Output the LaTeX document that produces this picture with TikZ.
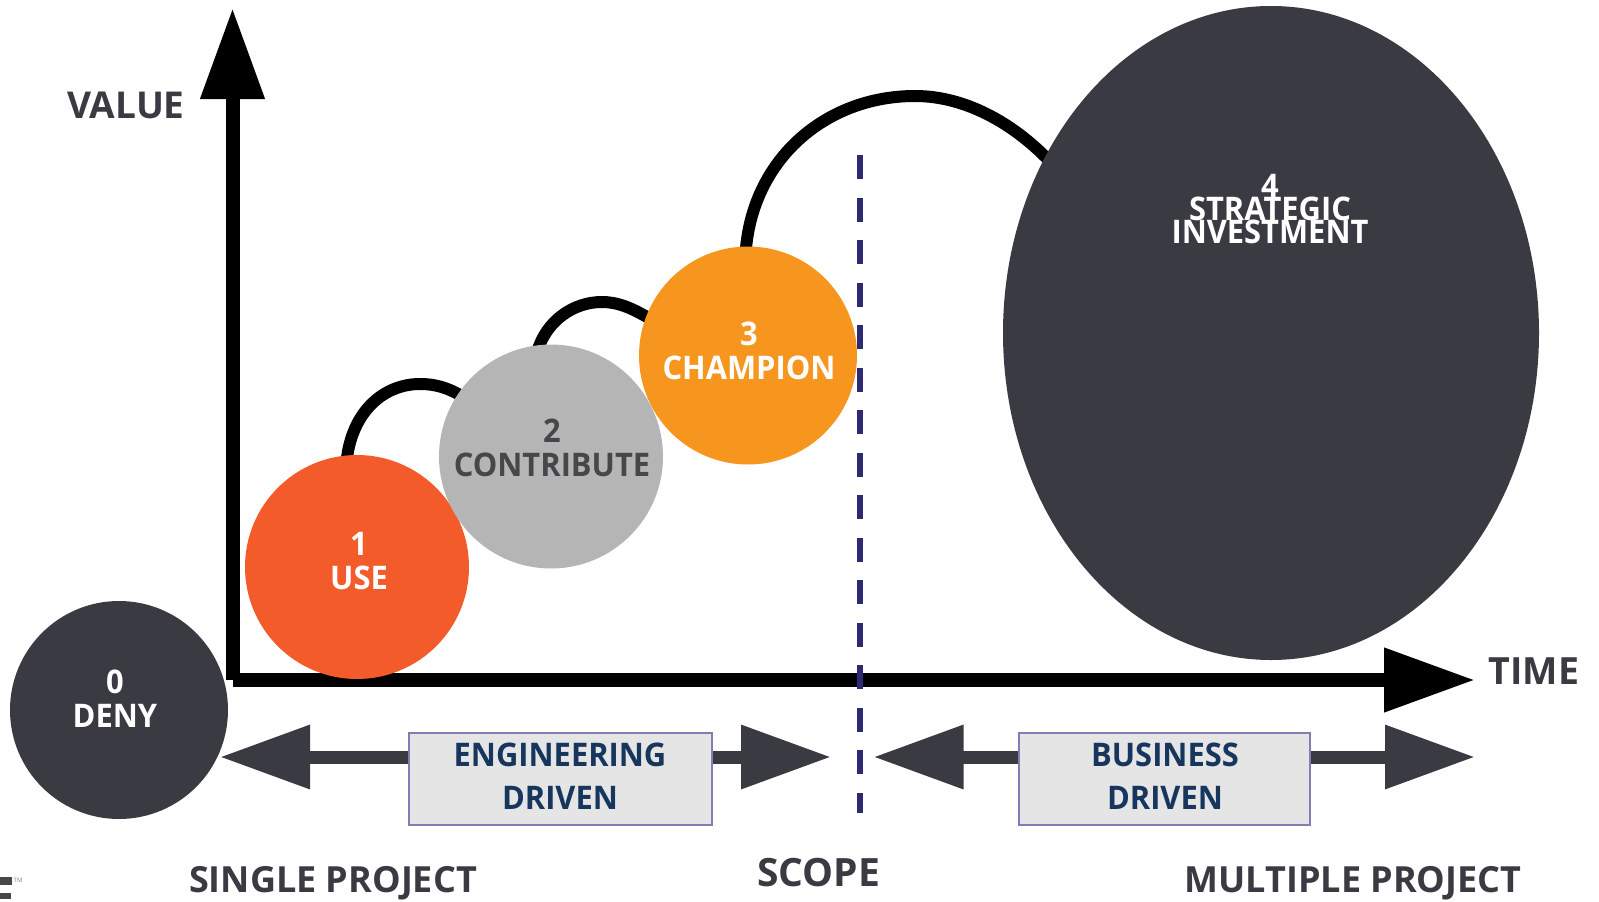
\documentclass[tikz,border=0pt]{standalone}
\usepackage{fontspec}
\setmainfont{Open Sans}
\newfontfamily\semi{Open Sans}[FakeStretch=0.95]
\newcommand\tightlines{\lineskiplimit=-20pt\relax}
\usetikzlibrary{arrows.meta,backgrounds,shapes.geometric}
\definecolor{dark}{HTML}{3A3A42}
\definecolor{redor}{HTML}{F35B2A}
\definecolor{midgray}{HTML}{B5B5B5}
\definecolor{amber}{HTML}{F7961F}
\definecolor{navy}{HTML}{17365D}
\definecolor{dashblue}{HTML}{2E2A72}
\definecolor{boxedge}{HTML}{7F7FB2}
\definecolor{boxfill}{HTML}{E5E5E5}
\definecolor{graytext}{HTML}{47474A}
\tikzset{
  disc/.style={circle,inner sep=0pt,draw=none},
  big/.style={ellipse,inner sep=0pt,draw=none,fill=dark,minimum width=536pt,minimum height=654pt},
  lab/.style={anchor=base,inner sep=0pt,align=center,font=\fontsize{32.5}{34}\selectfont\semi\bfseries},
  side/.style={anchor=base,inner sep=0pt,text=dark,font=\fontsize{36}{36}\selectfont\bfseries},
  drivebox/.style={rectangle,draw=boxedge,fill=boxfill,line width=2pt,inner sep=0pt},
  drivetext/.style={anchor=base,inner sep=0pt,align=center,text=navy,font=\fontsize{32.5}{43}\selectfont\semi\bfseries},
  axisline/.style={line width=14pt,black,-{Triangle[length=91pt,width=61pt]}},
  spanarrow/.style={line width=13pt,dark,-{Triangle[length=90pt,width=61pt]}},
  hop/.style={line width=12pt,black,shorten <=-6pt,shorten >=-6pt},
  scopeline/.style={line width=6pt,dashblue,dash pattern=on 24pt off 18.5pt},
  logobar/.style={draw=none,fill=graytext,inner sep=0pt}
}
\begin{document}
\begin{tikzpicture}[x=1pt,y=-1pt]
\useasboundingbox (0,0) rectangle (1599,902);
% stage discs
\node[disc,fill=dark,minimum size=218pt] (deny) at (119,710) {};
\node[disc,fill=redor,minimum size=224pt] (use) at (357,567) {};
\node[disc,fill=midgray,minimum size=224pt] (contrib) at (551,456.5) {};
\node[disc,fill=amber,minimum size=218pt] (champ) at (748,355.5) {};
\node[big] (strat) at (1271,333) {};
% stage labels
\node[lab,text=white] (denyl) at (115,727) {0\\DENY};
\node[lab,text=white] (usel) at (359,589) {1\\USE};
\node[lab,text=graytext] (contribl) at (552,476) {2\\CONTRIBUTE};
\node[lab,text=white] (champl) at (749,379) {3\\CHAMPION};
\node[lab,text=white,font=\fontsize{32.5}{23}\selectfont\semi\bfseries\tightlines] (stratl) at (1270,243) {4\\STRATEGIC\\INVESTMENT};
% driver boxes
\node[drivebox,minimum width=303pt,minimum height=92pt] (eng) at (560,779) {};
\node[drivebox,minimum width=291pt,minimum height=92pt] (biz) at (1164.5,779) {};
\node[drivetext] (engl) at (560,809) {ENGINEERING\\DRIVEN};
\node[drivetext] (bizl) at (1165,809) {BUSINESS\\DRIVEN};
% axis ends
\coordinate (origin) at (232.5,680);
\coordinate (ytip) at (232.5,8);
\coordinate (xtip) at (1475,680);
\coordinate (engL) at (220,757);
\coordinate (engR) at (831,757);
\coordinate (bizL) at (873.5,757);
\coordinate (bizR) at (1475,757);
\coordinate (scopetop) at (859.5,155);
\coordinate (scopebot) at (859.5,813);
\coordinate (engw) at (eng.west |- engL);
\coordinate (enge) at (eng.east |- engL);
\coordinate (bizw) at (biz.west |- bizL);
\coordinate (bize) at (biz.east |- bizR);
\begin{scope}[on background layer]
  \draw[axisline] (origin) -- (ytip);
  \draw[axisline] (origin) -- (xtip);
  \draw[spanarrow] (engw) -- (engL);
  \draw[spanarrow] (enge) -- (engR);
  \draw[spanarrow] (bizw) -- (bizL);
  \draw[spanarrow] (bize) -- (bizR);
  \draw[scopeline] (scopetop) -- (scopebot);
  \draw[hop] (use.95) .. controls (352,410) and (385,384) .. (420,384)
     .. controls (434,384) and (447,387) .. (contrib.146);
  \draw[hop] (contrib.96) .. controls (547,320) and (574,302) .. (602,302)
     .. controls (618,302) and (632,308) .. (champ.159);
  \draw[hop] (champ.91) .. controls (752,160) and (825,96) .. (915,96)
     .. controls (964,96) and (1012,122) .. (strat.142.5);
\end{scope}
% axis and scope captions
\node[side,font=\fontsize{37}{36}\selectfont\bfseries] (value) at (126,118) {VALUE};
\node[side,font=\fontsize{37.5}{36}\selectfont\bfseries] (time) at (1534,684) {TIME};
\node[side] (single) at (333,892) {SINGLE PROJECT};
\node[side,font=\fontsize{39}{36}\selectfont\bfseries] (scopel) at (818.5,886.5) {SCOPE};
\node[side] (multi) at (1353,892) {MULTIPLE PROJECT};
% logo fragment
\node[logobar,minimum width=12pt,minimum height=8pt,anchor=north west] (logoa) at (0,877) {};
\node[logobar,minimum width=11pt,minimum height=6pt,anchor=north west] (logob) at (0,892.5) {};
\node[anchor=north west,inner sep=0pt,text=gray,font=\fontsize{6}{6}\selectfont] (logotm) at (13.5,878) {TM};
\end{tikzpicture}
\end{document}
